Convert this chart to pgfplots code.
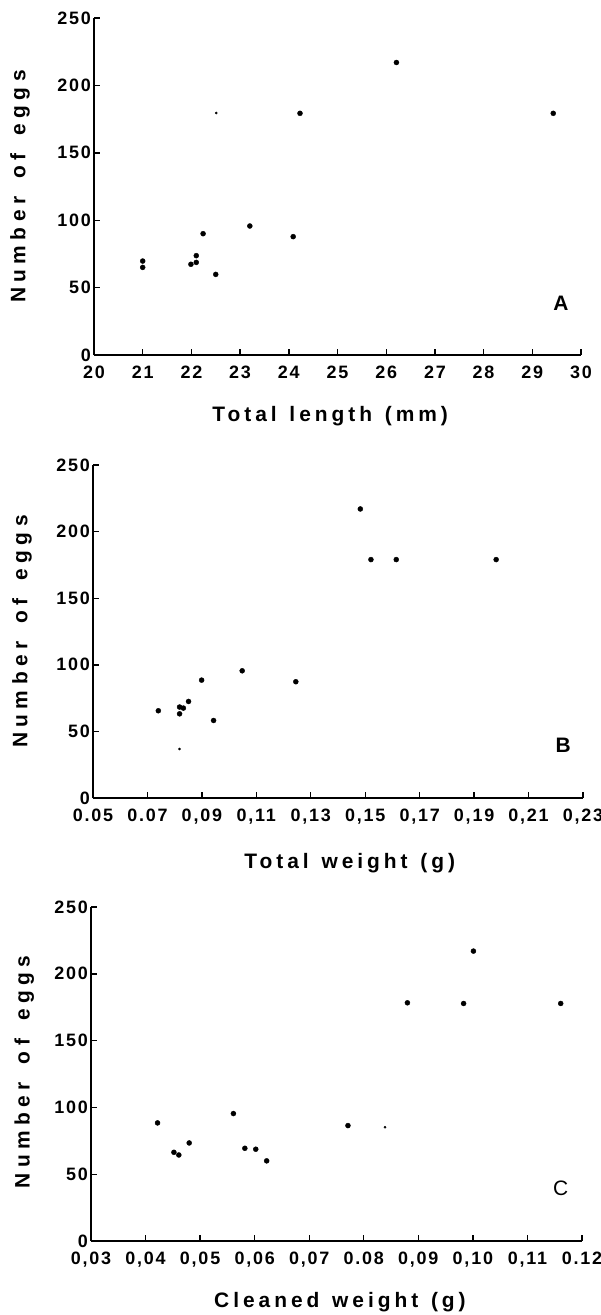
\documentclass[border=0pt]{standalone}
\usepackage{fontspec}
\setmainfont{Liberation Sans}
\newfontfamily\tickfont[LetterSpace=10]{Liberation Sans}
\newfontfamily\labfont[LetterSpace=19,WordSpace=1.3]{Liberation Sans}
\newfontfamily\ylabfont[LetterSpace=26,WordSpace=1.6]{Liberation Sans}
\usepackage{pgfplots}
\pgfplotsset{compat=1.18}
\pgfplotsset{
  eggaxis/.style={
    scale only axis,
    axis x line=bottom, axis y line=left,
    axis line style={-, line width=2bp},
    tick align=inside, major tick length=6bp,
    every tick/.style={line width=1.4bp, black},
    ymin=0, ymax=250, ytick={0,50,100,150,200,250},
    /pgf/number format/assume math mode=true,
    tick label style={font=\tickfont\bfseries\fontsize{18}{18}\selectfont},
    yticklabel style={inner sep=0pt, xshift=-3bp},
    xticklabel style={inner sep=0pt, yshift=-11bp},
    xlabel style={font=\labfont\bfseries\fontsize{21}{21}\selectfont},
    ylabel style={font=\ylabfont\bfseries\fontsize{21}{21}\selectfont},
    ylabel={Number of eggs},
    clip=false,
  },
  bigdot/.style={only marks, mark=*, mark size=2.5bp, black},
  smalldot/.style={only marks, mark=*, mark size=1.1bp, black},
}
\begin{document}
\begin{tikzpicture}
\path[use as bounding box] (0,0) rectangle (601bp,-1315bp);
% Panel A
\begin{axis}[eggaxis, width=487bp, height=337bp,
  at={(94bp,-355bp)}, anchor=south west,
  xmin=20, xmax=30, xtick={20,21,...,30},
  xticklabels={20,21,22,23,24,25,26,27,28,29,30},
  xlabel={Total length (mm)},
  xlabel style={at={(axis description cs:0.485,-0.196)}, anchor=base},
  ylabel style={at={(axis description cs:-0.152,0.5)}, anchor=center},
]
\addplot[bigdot] coordinates {
 (21.0,69.7) (21.0,65.0) (21.99,67.3) (22.1,73.7) (22.1,68.7) (22.24,90)
 (22.5,59.8) (23.2,95.7) (24.09,87.8) (24.23,179.3) (26.21,217) (29.43,179.3)
};
\addplot[smalldot] coordinates {(22.51,179.5)};
\node[font=\bfseries\fontsize{21}{21}\selectfont] at (axis cs:29.59,38.6) {A};
\end{axis}
% Panel B
\begin{axis}[eggaxis, width=490bp, height=333bp,
  at={(93bp,-798bp)}, anchor=south west,
  xmin=0.05, xmax=0.23, xtick={0.05,0.07,0.09,0.11,0.13,0.15,0.17,0.19,0.21,0.23},
  xticklabels={0.05,0.07,0{,}09,0{,}11,0{,}13,0{,}15,0{,}17,0{,}19,0{,}21,0{,}23},
  xlabel={Total weight (g)},
  xlabel style={at={(axis description cs:0.524,-0.213)}, anchor=base},
  ylabel style={at={(axis description cs:-0.145,0.5)}, anchor=center},
]
\addplot[bigdot] coordinates {
 (0.0740,65.5) (0.0818,68.3) (0.0832,67.5) (0.0818,63.2) (0.0851,72.5)
 (0.0899,88.5) (0.0943,58.2) (0.1048,95.5) (0.1245,87.3) (0.1482,217)
 (0.1521,179) (0.1614,179) (0.1981,179)
};
\addplot[smalldot] coordinates {(0.0818,36.8)};
\node[font=\bfseries\fontsize{21}{21}\selectfont] at (axis cs:0.2227,39.8) {B};
\end{axis}
% Panel C
\begin{axis}[eggaxis, width=491bp, height=334bp,
  at={(91bp,-1241bp)}, anchor=south west,
  xmin=0.03, xmax=0.12, xtick={0.03,0.04,0.05,0.06,0.07,0.08,0.09,0.10,0.11,0.12},
  xticklabels={0{,}03,0{,}04,0{,}05,0{,}06,0{,}07,0.08,0{,}09,0{,}10,0{,}11,0.12},
  xlabel={Cleaned weight (g)},
  xlabel style={at={(axis description cs:0.507,-0.198)}, anchor=base},
  ylabel style={at={(axis description cs:-0.136,0.506)}, anchor=center},
]
\addplot[bigdot] coordinates {
 (0.0422,88.4) (0.0452,66.4) (0.0461,64.4) (0.0480,73.4) (0.0561,95.4)
 (0.0582,69.4) (0.0602,68.7) (0.0622,60.0) (0.0771,86.4) (0.0880,178.3)
 (0.0983,177.8) (0.1001,217) (0.1161,177.8)
};
\addplot[smalldot] coordinates {(0.0839,85.2)};
\node[font=\fontsize{21}{21}\selectfont] at (axis cs:0.1161,39.7) {C};
\end{axis}
\end{tikzpicture}
\end{document}
